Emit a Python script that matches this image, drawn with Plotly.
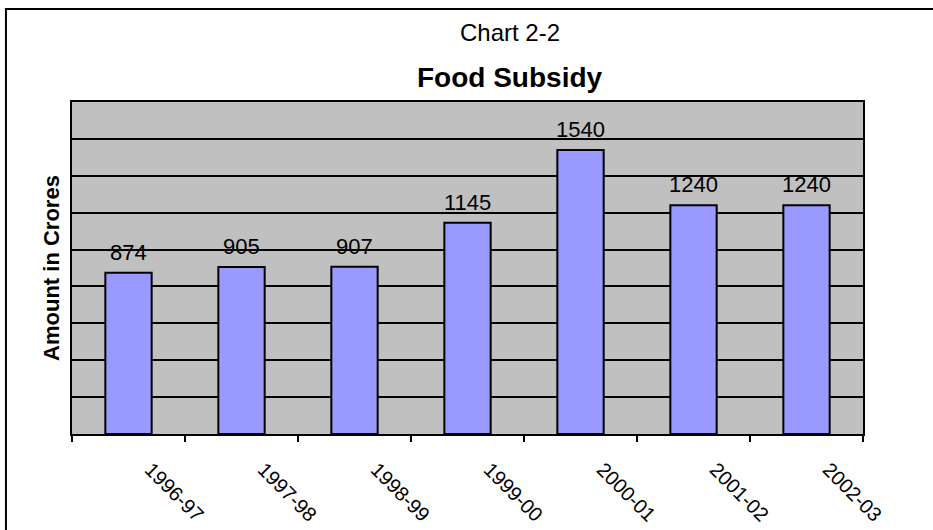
import plotly.graph_objects as go

years = ["1996-97", "1997-98", "1998-99", "1999-00", "2000-01", "2001-02", "2002-03"]
subsidy = [874, 905, 907, 1145, 1540, 1240, 1240]

FONT = "Liberation Sans, Arial, sans-serif"

fig = go.Figure()
fig.add_trace(go.Bar(
    x=years, y=subsidy,
    marker=dict(color="#9999FF", line=dict(color="black", width=2)),
    width=0.41,
    hoverinfo="x+y",
))

for yr, v in zip(years, subsidy):
    fig.add_annotation(x=yr, y=v, text=str(v), showarrow=False,
                       yanchor="bottom", yshift=6,
                       font=dict(family=FONT, size=22, color="black"))

fig.add_annotation(xref="paper", yref="paper", x=0.554, y=1.21, text="Chart 2-2",
                   showarrow=False, yanchor="middle",
                   font=dict(family=FONT, size=24, color="black"))
fig.add_annotation(xref="paper", yref="paper", x=0.554, y=1.075, text="<b>Food Subsidy</b>",
                   showarrow=False, yanchor="middle",
                   font=dict(family=FONT, size=28, color="black"))

# outer chart frame
fig.add_shape(type="rect", xref="paper", yref="paper",
              x0=-0.0835, x1=1.5, y0=-1.0, y1=1.28,
              line=dict(color="black", width=2), fillcolor="rgba(0,0,0,0)", layer="below")

fig.update_layout(
    width=933, height=530,
    margin=dict(l=72, r=70, t=102, b=96, autoexpand=False),
    paper_bgcolor="white",
    plot_bgcolor="#C0C0C0",
    showlegend=False,
    font=dict(family=FONT, color="black"),
    xaxis=dict(
        type="category",
        automargin=False,
        tickson="boundaries",
        ticks="outside", ticklen=6, tickwidth=2, tickcolor="black",
        tickangle=45,
        tickfont=dict(family=FONT, size=20, color="black"),
        ticklabelstandoff=14,
        ticklabelshift=22,
        showgrid=False,
        showline=True, linecolor="black", linewidth=2, mirror=True,
    ),
    yaxis=dict(
        range=[0, 1800], dtick=200,
        automargin=False,
        showticklabels=False,
        ticks="",
        showgrid=True, gridcolor="black", gridwidth=2,
        zeroline=False,
        showline=True, linecolor="black", linewidth=2, mirror=True,
        title=dict(text="<b>Amount in Crores</b>", standoff=4,
                   font=dict(family=FONT, size=22, color="black")),
    ),
)

fig.write_html("out.html", config={"displayModeBar": False},
               post_script="document.body.style.margin='0px';")
